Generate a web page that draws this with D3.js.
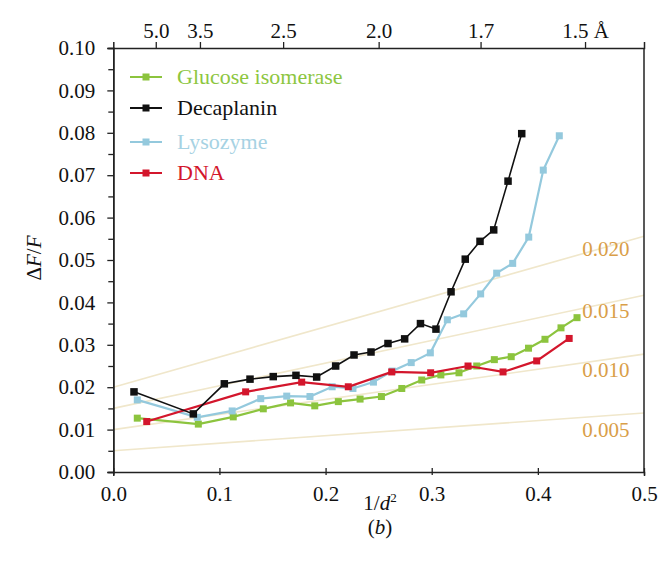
<!DOCTYPE html>
<html><head><meta charset="utf-8">
<script src="https://cdn.jsdelivr.net/npm/d3@7"></script>
<style>body{margin:0;background:#fff}svg{display:block}text{font-family:"Liberation Serif","Times New Roman",serif}</style>
</head><body><svg id="c" width="660" height="561"></svg>
<script>
// ---- data ----
const glucoseX = [0.0226,0.0801,0.113,0.1413,0.167,0.1898,0.212,0.2325,0.2526,0.2718,0.2906,0.3086,0.3257,0.3424,0.359,0.3749,0.3912,0.4067,0.4218,0.4369];
const glucoseY = [0.0127,0.0113,0.0130,0.0149,0.0163,0.0156,0.0166,0.0172,0.0178,0.0197,0.0217,0.0229,0.0234,0.0250,0.0265,0.0272,0.0292,0.0313,0.0340,0.0364];
const decaX = [0.0195,0.0754,0.1046,0.1288,0.1507,0.1721,0.1916,0.2095,0.2268,0.2428,0.2588,0.2745,0.2894,0.304,0.3182,0.3316,0.3455,0.3584,0.3719,0.3848];
const decaY = [0.0189,0.0137,0.0208,0.0219,0.0225,0.0228,0.0224,0.0250,0.0276,0.0283,0.0303,0.0314,0.0350,0.0337,0.0425,0.0502,0.0544,0.0571,0.0686,0.0798];
const lysoX = [0.0226,0.0791,0.112,0.1389,0.1634,0.1853,0.2062,0.2258,0.2451,0.2628,0.2807,0.2987,0.3147,0.3301,0.3461,0.3612,0.3763,0.3914,0.4051,0.4202];
const lysoY = [0.0170,0.0129,0.0144,0.0173,0.0179,0.0178,0.0201,0.0197,0.0212,0.0238,0.0258,0.0281,0.0359,0.0373,0.0420,0.0469,0.0492,0.0554,0.0712,0.0793];
const dnaX = [0.0315,0.1247,0.1775,0.2214,0.2623,0.299,0.3342,0.3672,0.3989,0.4295];
const dnaY = [0.0119,0.0189,0.0212,0.0201,0.0236,0.0234,0.0250,0.0236,0.0262,0.0315];
const seriesNames = ["Glucose isomerase","Decaplanin","Lysozyme","DNA"];
const guideLabels = ["0.020","0.015","0.010","0.005"];
const guideStart = [0.020,0.015,0.010,0.005];
const guideEnd = [0.0556,0.0417,0.0278,0.0139];
const yTicks = [0,0.01,0.02,0.03,0.04,0.05,0.06,0.07,0.08,0.09,0.10];
const xTicks = [0,0.1,0.2,0.3,0.4,0.5];
const topTickD = [5.0,3.5,2.5,2.0,1.7,1.5];
const topTickLabels = ["5.0","3.5","2.5","2.0","1.7","1.5 Å"];

// ---- layout ----
const L=113.3, R=644, T=48, B=472;
const svg = d3.select("#c");
const x = d3.scaleLinear().domain([0,0.5]).range([L,R]);
const y = d3.scaleLinear().domain([0,0.10]).range([B,T]);
const FS = 21;

// guide lines
const gg = svg.append("g");
guideStart.forEach((s,i)=>{
  gg.append("line").attr("x1",x(0)).attr("y1",y(s)).attr("x2",x(0.5)).attr("y2",y(guideEnd[i]))
    .attr("stroke","#f0e7cb").attr("stroke-width",1.6);
});
const guideLabelY = [0.0525,0.0380,0.0240,0.0100];
guideLabels.forEach((t,i)=>{
  gg.append("text").attr("x",x(0.464)).attr("y",y(guideLabelY[i])+7).attr("text-anchor","middle")
    .attr("font-size",FS).attr("fill","#d99e48").text(t);
});

// axes
const yAxis = d3.axisLeft(y).tickValues(yTicks).tickFormat(d3.format(".2f")).tickSize(6).tickPadding(12);
svg.append("g").attr("transform",`translate(${L},0)`).call(yAxis);
const yMinor = d3.axisLeft(y).tickValues(d3.range(0.005,0.1,0.01)).tickFormat("").tickSize(5);
svg.append("g").attr("transform",`translate(${L},0)`).call(yMinor);
const xAxis = d3.axisBottom(x).tickValues(xTicks).tickFormat(d3.format(".1f")).tickSize(4).tickPadding(10);
const gx = svg.append("g").attr("transform",`translate(0,${B})`).call(xAxis);
gx.selectAll(".tick line").attr("y1",-4).attr("y2",3);
const xTop = d3.axisTop(x).tickValues(topTickD.map(d=>1/(d*d))).tickFormat((d,i)=>topTickLabels[i]).tickSize(6).tickPadding(4);
svg.append("g").attr("transform",`translate(0,${T})`).call(xTop);
svg.append("line").attr("x1",R).attr("x2",R).attr("y1",T).attr("y2",B).attr("stroke","#222").attr("stroke-width",1.5);
svg.selectAll(".domain").attr("stroke","#222").attr("stroke-width",1.5);
svg.selectAll(".tick line").attr("stroke","#222").attr("stroke-width",1.3);
svg.selectAll(".tick text").attr("font-size",FS).attr("fill","#111");

// series
const lineGen = d3.line().x(d=>x(d[0])).y(d=>y(d[1]));
const series = [
  {xs:glucoseX, ys:glucoseY, color:"#8cc43e", w:2.2, m:7},
  {xs:lysoX, ys:lysoY, color:"#94c9dd", w:2.2, m:7},
  {xs:dnaX, ys:dnaY, color:"#d3162c", w:2.2, m:7},
  {xs:decaX, ys:decaY, color:"#111111", w:1.6, m:7.5}
];
series.forEach(s=>{
  const pts = s.xs.map((v,i)=>[v,s.ys[i]]);
  svg.append("path").datum(pts).attr("d",lineGen).attr("fill","none").attr("stroke",s.color).attr("stroke-width",s.w);
  svg.append("g").selectAll("rect").data(pts).join("rect")
    .attr("x",d=>x(d[0])-s.m/2).attr("y",d=>y(d[1])-s.m/2).attr("width",s.m).attr("height",s.m).attr("fill",s.color);
});

// legend
const legColors = ["#8cc43e","#111111","#94c9dd","#d3162c"];
const legText = ["#8dc63f","#111111","#a6d2e3","#d3162c"];
const legY = [77,108,142,173];
seriesNames.forEach((n,i)=>{
  const g = svg.append("g");
  g.append("line").attr("x1",130).attr("x2",162).attr("y1",legY[i]).attr("y2",legY[i]).attr("stroke",legColors[i]).attr("stroke-width",2);
  g.append("rect").attr("x",142.5).attr("y",legY[i]-3.5).attr("width",7).attr("height",7).attr("fill",legColors[i]);
  g.append("text").attr("x",177).attr("y",legY[i]+7).attr("font-size",22).attr("fill",legText[i]).text(n);
});

// titles
const yt = svg.append("text").attr("transform","translate(41,258) rotate(-90)").attr("text-anchor","middle").attr("font-size",FS).attr("fill","#111");
yt.append("tspan").text("Δ");
yt.append("tspan").attr("font-style","italic").text("F");
yt.append("tspan").text("/");
yt.append("tspan").attr("font-style","italic").text("F");
const xt = svg.append("text").attr("x",380).attr("y",510).attr("text-anchor","middle").attr("font-size",FS).attr("fill","#111");
xt.append("tspan").text("1/");
xt.append("tspan").attr("font-style","italic").text("d");
xt.append("tspan").attr("font-size",13).attr("dy",-8).text("2");
const bt = svg.append("text").attr("x",380).attr("y",534).attr("text-anchor","middle").attr("font-size",FS).attr("fill","#111");
bt.append("tspan").text("(");
bt.append("tspan").attr("font-style","italic").text("b");
bt.append("tspan").text(")");
</script></body></html>
